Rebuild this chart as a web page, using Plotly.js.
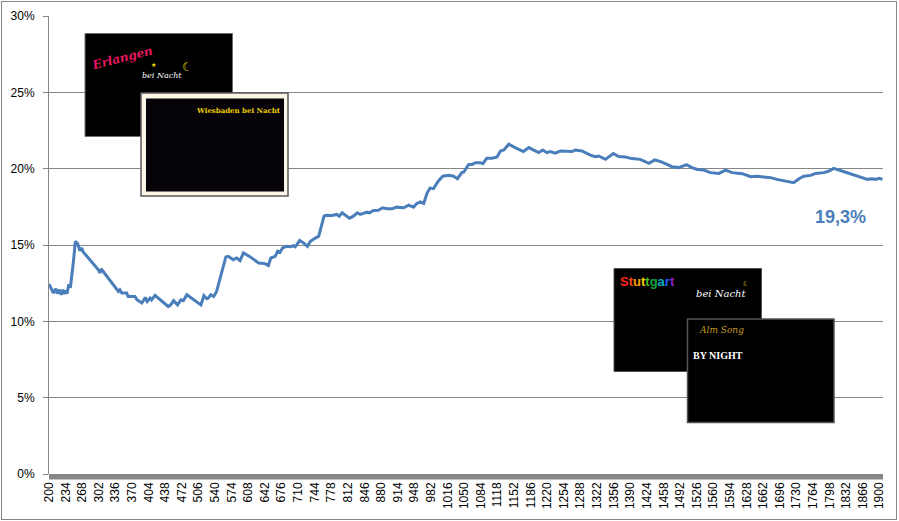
<!DOCTYPE html>
<html>
<head>
<meta charset="utf-8">
<script src="https://cdn.plot.ly/plotly-3.0.1.min.js"></script>
<style>
  html, body { margin:0; padding:0; background:#fff; }
  #wrap { position:relative; width:899px; height:521px; }
  #chart { width:899px; height:521px; }
  #frame { position:absolute; left:1px; top:1px; width:894px; height:517px; border:1px solid #868686; pointer-events:none; }
</style>
</head>
<body>
<div id="wrap"><div id="chart"></div><div id="frame"></div></div>
<script>
// category positions (x) and share in percent (y)
const xVals = [
  200,209,214,217,221,225,228,231,235,237,
  240,244,250,254,259,263,267,270,301,304,
  307,342,345,349,359,362,376,380,390,397,
  401,407,410,417,444,449,455,463,470,475,
  482,511,517,523,526,531,537,543,562,567,
  577,584,591,598,612,629,642,649,654,663,
  668,673,678,687,694,700,704,713,721,729,
  735,741,746,752,755,763,767,779,789,794,
  800,806,815,823,831,837,844,851,856,864,
  874,883,892,902,912,926,936,946,953,960,
  967,974,980,987,997,1006,1018,1028,1036,1045,
  1049,1054,1059,1066,1073,1083,1088,1096,1107,1117,
  1124,1131,1141,1154,1171,1182,1195,1202,1211,1219,
  1226,1236,1247,1260,1271,1277,1291,1308,1318,1325,
  1339,1355,1366,1380,1393,1410,1428,1440,1452,1465,
  1475,1489,1505,1516,1527,1540,1554,1571,1585,1598,
  1619,1636,1649,1663,1677,1690,1711,1724,1735,1745,
  1759,1769,1786,1796,1806,1820,1840,1861,1875,1885,
  1892,1899,1906
];
const pctVals = [
  12.44,11.85,12.14,11.81,12.07,11.74,12.07,11.81,12.02,11.81,
  12.33,12.29,13.93,15.24,15.07,14.63,14.81,14.55,13.38,13.17,
  13.43,11.96,12.07,11.85,11.85,11.63,11.63,11.41,11.20,11.56,
  11.30,11.52,11.41,11.70,10.97,11.08,11.35,11.08,11.41,11.35,
  11.74,11.08,11.68,11.48,11.52,11.74,11.63,11.96,14.22,14.26,
  14.04,14.15,13.98,14.48,14.22,13.82,13.78,13.65,14.15,14.26,
  14.59,14.52,14.81,14.91,14.88,14.96,14.88,15.29,15.14,14.91,
  15.24,15.40,15.47,15.57,15.90,16.89,16.95,16.93,17.00,16.89,
  17.11,16.95,16.75,16.89,17.11,17.00,17.06,17.15,17.11,17.26,
  17.28,17.44,17.37,17.37,17.48,17.44,17.61,17.48,17.72,17.83,
  17.72,18.42,18.73,18.69,19.19,19.51,19.56,19.51,19.34,19.74,
  19.78,20.07,20.28,20.28,20.39,20.39,20.33,20.68,20.68,20.76,
  21.16,21.22,21.60,21.38,21.12,21.38,21.16,21.05,21.22,21.05,
  21.12,21.01,21.16,21.16,21.12,21.22,21.16,20.89,20.79,20.83,
  20.61,20.99,20.79,20.76,20.66,20.61,20.35,20.57,20.46,20.28,
  20.13,20.07,20.26,20.07,19.95,19.91,19.74,19.69,19.91,19.74,
  19.67,19.47,19.51,19.45,19.41,19.30,19.15,19.08,19.34,19.51,
  19.56,19.69,19.74,19.84,20.02,19.89,19.67,19.45,19.30,19.34,
  19.30,19.37,19.30
];
const xTickLabels = [
  200,234,268,302,336,370,404,438,472,506,540,574,608,642,676,710,744,778,812,846,
  880,914,948,982,1016,1050,1084,1118,1152,1186,1220,1254,1288,1322,1356,1390,1424,1458,1492,1526,
  1560,1594,1628,1662,1696,1730,1764,1798,1832,1866,1900
];
const yTickVals = [0,5,10,15,20,25,30];
const endLabel = "19,3%";

// pixel -> paper helpers for decorations
const L = 49, R = 16, T = 16, B = 47, W = 899, H = 521;
const PW = W - L - R, PH = H - T - B;
const px = v => (v - L) / PW;
const py = v => (H - B - v) / PH;

function rect(x0, y0, x1, y1, fill, lineColor, lw) {
  return {type:'rect', xref:'paper', yref:'paper', layer:'above',
    x0:px(x0), x1:px(x1), y0:py(y1), y1:py(y0),
    fillcolor:fill, line:{color:lineColor || fill, width: lw === undefined ? 1 : lw}};
}
function note(x, y, text, opts) {
  return Object.assign({xref:'paper', yref:'paper', x:px(x), y:py(y), text:text,
    showarrow:false, xanchor:'center', yanchor:'middle'}, opts || {});
}

const shapes = [
  rect(49, 474, 883, 479.5, '#868686', '#868686', 0),
  rect(85, 33.5, 232.5, 136.5, '#000000', '#6e6e6e', 1),
  rect(141, 93, 288, 196, '#fbf6e6', '#5a5a5a', 1.5),
  rect(146, 98.5, 284, 191.5, '#050308', '#050308', 0),
  rect(614, 268.5, 761.5, 371.5, '#000000', '#555555', 1),
  rect(687.5, 319, 834, 422.5, '#000000', '#555555', 1.5)
];

const rainbow = ['#ff2020','#ff4a10','#ff9a00','#f0d000','#40c020','#10a040','#10b0c0','#2060ff','#9020d0'];
const stutt = 'Stuttgart'.split('').map((c,i)=>'<span style="color:'+rainbow[i]+'">'+c+'</span>').join('');

const annotations = [
  note(122, 58, '<b><i>Erlangen</i></b>', {textangle:-14, font:{family:'DejaVu Serif', size:12, color:'#e8185e'}}),
  note(162, 76, '<i>bei Nacht</i>', {font:{family:'DejaVu Serif', size:8, color:'#ffffff'}}),
  note(153, 64, '★', {font:{family:'DejaVu Sans', size:6, color:'#f0e000'}}),
  note(187, 67, '☾', {font:{family:'DejaVu Sans', size:12, color:'#f0e000'}}),
  note(238, 110, '<b>Wiesbaden bei Nacht</b>', {font:{family:'DejaVu Serif', size:7, color:'#f0d000'}}),
  note(647, 281, '<b>'+stutt+'</b>', {font:{family:'Liberation Sans', size:13, color:'#ff0000'}}),
  note(721, 293, '<i>bei Nacht</i>', {font:{family:'DejaVu Serif', size:10, color:'#ffffff'}}),
  note(746, 284, '☾', {font:{family:'DejaVu Sans', size:7, color:'#f0e000'}}),
  note(721, 330, '<i>Alm Song</i>', {font:{family:'DejaVu Serif', size:9, color:'#c89a20'}}),
  note(718, 355, '<b>BY NIGHT</b>', {font:{family:'Liberation Serif', size:10, color:'#ffffff'}}),
  {xref:'x', yref:'paper', x:xVals[xVals.length-1], y:py(216.5), text:'<b>'+endLabel+'</b>',
    showarrow:false, xanchor:'center', yanchor:'middle', xshift:-42,
    font:{family:'Liberation Sans, Arial', size:18, color:'#4a7ebb'}}
];

const trace = {
  x: xVals, y: pctVals, type:'scatter', mode:'lines',
  line:{color:'#4a7ebb', width:3}, hoverinfo:'skip'
};

const layout = {
  width:W, height:H,
  margin:{l:L, r:R, t:T, b:B, pad:0},
  paper_bgcolor:'#ffffff', plot_bgcolor:'#ffffff',
  showlegend:false,
  font:{family:'Liberation Sans, Arial, sans-serif', size:12, color:'#000000'},
  xaxis:{
    type:'linear', range:[200, 1907],
    tickmode:'array', tickvals:xTickLabels, ticktext:xTickLabels.map(String),
    tickangle:-90, ticks:'', showgrid:false, zeroline:false, showline:false,
    ticklabelstandoff:5,
    tickfont:{family:'Liberation Sans, Arial', size:12, color:'#000000'}
  },
  yaxis:{
    range:[0,30], tickmode:'array', tickvals:yTickVals,
    ticktext:yTickVals.map(v=>v+'%'),
    showgrid:true, gridcolor:'#868686', gridwidth:1,
    showline:true, linecolor:'#868686', linewidth:1,
    ticks:'outside', ticklen:5, tickcolor:'#868686',
    zeroline:false, ticklabelstandoff:6,
    tickfont:{family:'Liberation Sans, Arial', size:12, color:'#000000'}
  },
  shapes:shapes,
  annotations:annotations
};

Plotly.newPlot('chart', [trace], layout, {displayModeBar:false, staticPlot:true});
</script>
</body>
</html>
